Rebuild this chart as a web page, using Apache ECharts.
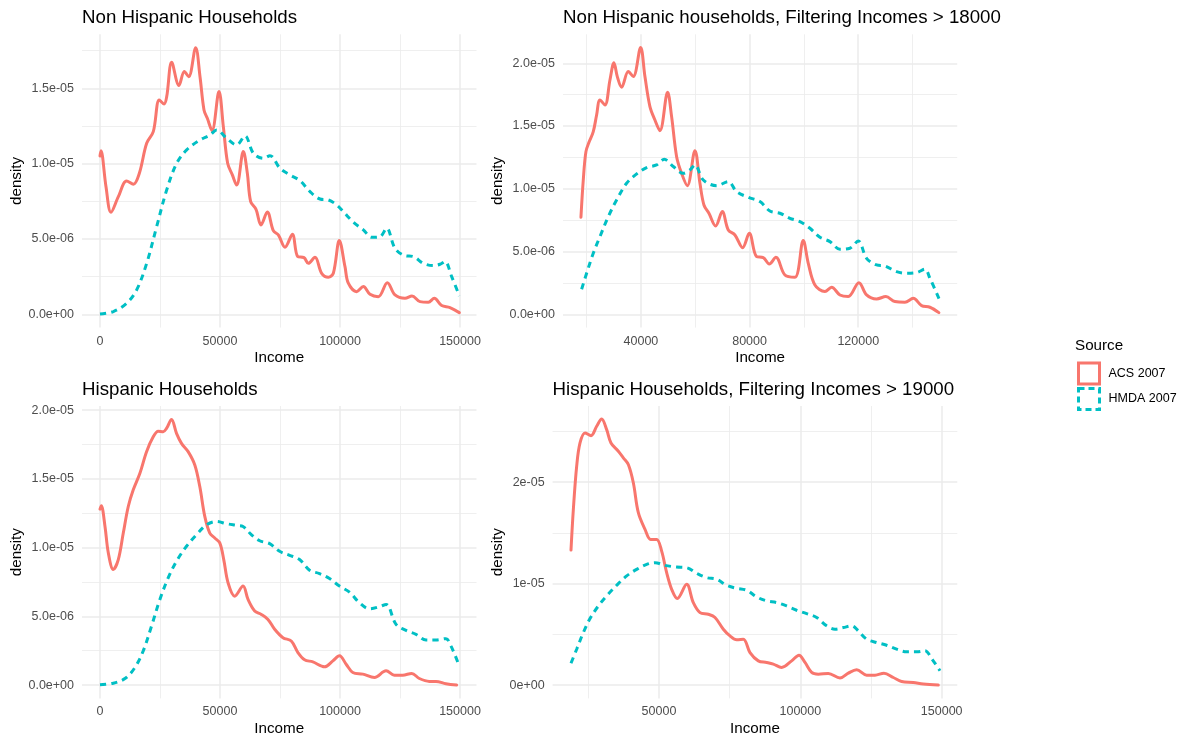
<!DOCTYPE html>
<html>
<head>
<meta charset="utf-8">
<script src="https://cdn.jsdelivr.net/npm/echarts@6/dist/echarts.min.js"></script>
<style>
html,body{margin:0;padding:0;background:#ffffff;}
#chart{width:1179px;height:738px;}
</style>
</head>
<body>
<div id="chart"></div>
<script>
// ---------------- DATA ----------------
const sourceNames = ['ACS 2007', 'HMDA 2007'];
const panelTitles = [
  'Non Hispanic Households',
  'Non Hispanic households, Filtering Incomes > 18000',
  'Hispanic Households',
  'Hispanic Households, Filtering Incomes > 19000'
];
const xAxisTitle = 'Income';
const yAxisTitle = 'density';
const legendTitle = 'Source';

// [income, density]
const nonHispAcs = [[0,10.51e-6],[400,10.86e-6],[2500,8.47e-6],[4580,6.77e-6],[7640,7.81e-6],[11100,8.85e-6],[13900,8.63e-6],[16400,9.36e-6],[19440,11.35e-6],[22200,12.12e-6],[24700,14.23e-6],[26700,13.96e-6],[27800,14.45e-6],[29860,16.73e-6],[32900,15.18e-6],[35140,16.11e-6],[36950,15.77e-6],[39860,17.70e-6],[41670,15.77e-6],[43330,13.56e-6],[44720,13.01e-6],[46670,12.19e-6],[49580,14.78e-6],[51390,12.46e-6],[53190,10.02e-6],[55140,9.25e-6],[56940,8.58e-6],[59720,10.80e-6],[61390,9.36e-6],[62780,7.48e-6],[65000,6.97e-6],[67080,5.93e-6],[69720,6.79e-6],[72220,5.55e-6],[74300,5.27e-6],[77080,4.45e-6],[80140,5.31e-6],[82360,3.83e-6],[85000,3.76e-6],[86800,3.38e-6],[89580,3.78e-6],[92360,2.72e-6],[95140,2.46e-6],[97220,2.72e-6],[99720,4.89e-6],[102080,3.16e-6],[103470,2.06e-6],[106940,1.50e-6],[109720,1.84e-6],[112500,1.33e-6],[115970,1.17e-6],[119720,2.10e-6],[122920,1.28e-6],[127080,1.06e-6],[130000,1.22e-6],[133330,0.84e-6],[136800,0.80e-6],[139300,1.06e-6],[142360,0.58e-6],[145830,0.44e-6],[149720,0.11e-6]];
const nonHispHmda = [[0,0.02e-6],[5560,0.18e-6],[11100,0.73e-6],[15280,1.62e-6],[19440,3.38e-6],[23610,5.82e-6],[27780,8.25e-6],[31940,10.02e-6],[36110,10.91e-6],[41670,11.57e-6],[45830,11.90e-6],[48610,12.23e-6],[52780,11.68e-6],[56940,11.24e-6],[60420,11.84e-6],[63890,10.69e-6],[68060,10.35e-6],[70830,10.53e-6],[75000,9.69e-6],[79170,9.25e-6],[83330,8.87e-6],[87500,8.14e-6],[91670,7.65e-6],[95140,7.59e-6],[98610,7.26e-6],[101390,6.81e-6],[105560,6.11e-6],[109720,5.60e-6],[113190,5.11e-6],[116670,5.15e-6],[119440,5.71e-6],[122920,4.38e-6],[127080,3.89e-6],[130560,3.83e-6],[134720,3.38e-6],[138890,3.23e-6],[141670,3.32e-6],[143750,3.50e-6],[146530,2.50e-6],[149720,1.22e-6]];

const nonHispAcsFilt = [[17910,7.73e-6],[18770,10.70e-6],[19750,12.96e-6],[20980,13.76e-6],[22450,14.55e-6],[23680,15.88e-6],[24910,17.08e-6],[26750,16.68e-6],[28590,18.67e-6],[30060,20.05e-6],[31290,18.94e-6],[32880,18.09e-6],[35340,19.34e-6],[37180,18.94e-6],[39880,21.25e-6],[41470,18.94e-6],[43310,16.55e-6],[45150,15.48e-6],[46990,14.63e-6],[49820,17.69e-6],[51290,15.75e-6],[53130,12.56e-6],[54970,11.23e-6],[57060,10.25e-6],[59880,13.04e-6],[61720,10.44e-6],[63190,8.71e-6],[65030,8.05e-6],[67490,7.04e-6],[69940,8.18e-6],[72150,6.72e-6],[74600,6.32e-6],[77420,5.31e-6],[79880,6.45e-6],[82580,4.59e-6],[85030,4.52e-6],[87240,4.01e-6],[89690,4.54e-6],[93000,3.13e-6],[96690,2.95e-6],[99750,5.87e-6],[101600,4.06e-6],[104050,2.34e-6],[107730,1.81e-6],[110180,2.15e-6],[113250,1.54e-6],[116320,1.41e-6],[120250,2.52e-6],[123070,1.54e-6],[126750,1.22e-6],[130190,1.41e-6],[133500,1.01e-6],[137180,0.96e-6],[140250,1.27e-6],[143310,0.69e-6],[146380,0.56e-6],[149690,0.13e-6]];
const nonHispHmdaFilt = [[18160,1.99e-6],[20000,3.27e-6],[22450,4.86e-6],[24910,6.19e-6],[27980,7.78e-6],[31040,9.11e-6],[34720,10.44e-6],[38400,11.18e-6],[42090,11.69e-6],[45770,11.90e-6],[48590,12.35e-6],[51900,11.77e-6],[55580,11.23e-6],[58040,11.50e-6],[59880,11.90e-6],[62950,10.70e-6],[67850,10.25e-6],[72150,10.57e-6],[75220,9.77e-6],[79510,9.32e-6],[83800,8.98e-6],[87480,8.23e-6],[91160,8.05e-6],[94850,7.65e-6],[98530,7.38e-6],[102210,6.85e-6],[105890,6.14e-6],[109570,5.79e-6],[113250,5.18e-6],[116930,5.26e-6],[119990,5.84e-6],[123060,4.46e-6],[126750,3.93e-6],[129810,3.85e-6],[134100,3.40e-6],[137790,3.27e-6],[141470,3.32e-6],[144540,3.59e-6],[146380,2.87e-6],[149820,1.20e-6]];

const hispAcs = [[0,12.80e-6],[550,13.04e-6],[2080,11.54e-6],[3470,9.61e-6],[5540,8.40e-6],[7620,9.13e-6],[9700,11.06e-6],[11780,12.99e-6],[13860,14.20e-6],[16630,15.41e-6],[19400,16.98e-6],[22180,18.06e-6],[24260,18.47e-6],[26330,18.43e-6],[27720,18.67e-6],[29800,19.32e-6],[31880,18.31e-6],[33960,17.58e-6],[36730,16.98e-6],[39500,16.01e-6],[41580,14.44e-6],[43660,12.27e-6],[45740,11.06e-6],[47820,10.70e-6],[49900,10.34e-6],[51560,9.13e-6],[53360,7.44e-6],[56130,6.47e-6],[59600,7.20e-6],[61680,6.23e-6],[64450,5.39e-6],[67220,5.14e-6],[69990,4.78e-6],[72770,4.06e-6],[76230,3.45e-6],[79700,3.21e-6],[82470,2.37e-6],[85240,1.84e-6],[88700,1.69e-6],[93560,1.33e-6],[97020,1.76e-6],[99790,2.13e-6],[102560,1.52e-6],[105340,0.92e-6],[109500,0.80e-6],[114350,0.56e-6],[119200,1.04e-6],[122660,0.72e-6],[126130,0.72e-6],[129870,0.85e-6],[133060,0.48e-6],[137210,0.27e-6],[139990,0.27e-6],[144140,0.10e-6],[148580,0.00e-6]];
const hispHmda = [[0,0.02e-6],[5540,0.14e-6],[10400,0.48e-6],[14550,1.28e-6],[18020,2.49e-6],[21480,4.30e-6],[24950,6.23e-6],[28410,7.80e-6],[31880,9.01e-6],[36040,10.10e-6],[40190,10.94e-6],[44350,11.66e-6],[48510,11.90e-6],[52670,11.74e-6],[56830,11.62e-6],[59600,11.54e-6],[63060,10.94e-6],[66530,10.50e-6],[70690,10.29e-6],[74840,9.73e-6],[79000,9.44e-6],[83160,9.13e-6],[87320,8.36e-6],[91480,8.11e-6],[95630,7.75e-6],[99790,7.20e-6],[103950,6.76e-6],[108110,5.99e-6],[112270,5.55e-6],[116420,5.70e-6],[119200,5.87e-6],[123350,4.42e-6],[127510,3.98e-6],[131670,3.69e-6],[135830,3.28e-6],[139990,3.28e-6],[144140,3.38e-6],[146220,2.85e-6],[149410,1.52e-6]];

const hispAcsFilt = [[18870,13.31e-6],[19700,17.31e-6],[20880,21.58e-6],[22060,23.87e-6],[23830,24.85e-6],[25950,24.59e-6],[27950,25.51e-6],[29720,26.23e-6],[31490,25.18e-6],[33020,23.87e-6],[35620,23.05e-6],[37380,22.40e-6],[39150,21.74e-6],[40920,19.94e-6],[42690,16.99e-6],[45050,15.35e-6],[47050,14.36e-6],[49170,14.36e-6],[50940,13.21e-6],[52710,11.08e-6],[54480,9.44e-6],[56480,8.53e-6],[59790,9.93e-6],[62140,8.13e-6],[64500,7.15e-6],[67450,6.98e-6],[69810,6.66e-6],[72750,5.51e-6],[75110,4.85e-6],[77470,4.46e-6],[79830,4.53e-6],[82190,3.21e-6],[85130,2.39e-6],[88080,2.23e-6],[90440,2.07e-6],[93390,1.74e-6],[96920,2.39e-6],[99520,2.95e-6],[101640,2.23e-6],[104000,1.25e-6],[106360,1.08e-6],[109890,1.15e-6],[114020,0.69e-6],[116970,1.18e-6],[119910,1.51e-6],[123450,0.98e-6],[126400,0.98e-6],[129580,1.18e-6],[132880,0.75e-6],[135830,0.36e-6],[139960,0.26e-6],[143500,0.10e-6],[148800,0.00e-6]];
const hispHmdaFilt = [[18870,2.16e-6],[20880,3.54e-6],[23240,5.18e-6],[25600,6.56e-6],[28540,7.80e-6],[31490,8.79e-6],[35030,9.84e-6],[38560,10.76e-6],[42100,11.41e-6],[45640,11.90e-6],[48590,12.07e-6],[52120,11.80e-6],[56250,11.64e-6],[59790,11.57e-6],[63320,11.02e-6],[66860,10.59e-6],[70400,10.43e-6],[73930,9.84e-6],[77470,9.54e-6],[81010,9.35e-6],[84540,8.69e-6],[88080,8.30e-6],[91620,8.13e-6],[95160,7.80e-6],[98690,7.38e-6],[102230,7.05e-6],[105770,6.66e-6],[109300,5.84e-6],[112250,5.51e-6],[115200,5.67e-6],[118150,5.84e-6],[120500,5.34e-6],[123450,4.53e-6],[126990,4.20e-6],[130520,3.93e-6],[134060,3.54e-6],[137600,3.28e-6],[141140,3.28e-6],[144080,3.38e-6],[146440,2.62e-6],[149390,1.41e-6]];

// tick values and labels
const xTicksFull = [0, 50000, 100000, 150000];
const xLabelsFull = ['0', '50000', '100000', '150000'];
const xMinorFull = [25000, 75000, 125000];
const xTicksNH = [40000, 80000, 120000];
const xLabelsNH = ['40000', '80000', '120000'];
const xMinorNH = [20000, 60000, 100000, 140000];
const xTicksH = [50000, 100000, 150000];
const xLabelsH = ['50000', '100000', '150000'];
const xMinorH = [25000, 75000, 125000];

const yTicks15 = [0, 5e-6, 1e-5, 1.5e-5];
const yLabels15 = ['0.0e+00', '5.0e-06', '1.0e-05', '1.5e-05'];
const yMinor15 = [2.5e-6, 7.5e-6, 1.25e-5, 1.75e-5];
const yTicks20 = [0, 5e-6, 1e-5, 1.5e-5, 2e-5];
const yLabels20 = ['0.0e+00', '5.0e-06', '1.0e-05', '1.5e-05', '2.0e-05'];
const yMinor20 = [2.5e-6, 7.5e-6, 1.25e-5, 1.75e-5];
const yTicksH = [0, 1e-5, 2e-5];
const yLabelsH = ['0e+00', '1e-05', '2e-05'];
const yMinorH = [5e-6, 1.5e-5, 2.5e-5];

// ---------------- LAYOUT ----------------
const FONT = '"Liberation Sans", Arial, Helvetica, sans-serif';
const RED = '#F8766D', TEAL = '#00BFC4', GRID = '#EBEBEB';

const panels = [
  { title: panelTitles[0], tLeft: 82, tTop: 7.8, g: {left: 82, top: 34.3, width: 394.5, height: 293.3},
    xr: [-7500, 156875], yr: [-0.885e-6, 18.585e-6], xt: xTicksFull, xl: xLabelsFull, xm: xMinorFull,
    yt: yTicks15, yl: yLabels15, ym: yMinor15, acs: nonHispAcs, hmda: nonHispHmda, yGap: 52.7 },
  { title: panelTitles[1], tLeft: 563, tTop: 7.8, g: {left: 563, top: 34.3, width: 394.2, height: 293.3},
    xr: [11305, 156429], yr: [-1.0625e-6, 22.31e-6], xt: xTicksNH, xl: xLabelsNH, xm: xMinorNH,
    yt: yTicks20, yl: yLabels20, ym: yMinor20, acs: nonHispAcsFilt, hmda: nonHispHmdaFilt, yGap: 53.7 },
  { title: panelTitles[2], tLeft: 82, tTop: 379.6, g: {left: 82, top: 406, width: 394.5, height: 293.3},
    xr: [-7500, 156875], yr: [-0.967e-6, 20.3e-6], xt: xTicksFull, xl: xLabelsFull, xm: xMinorFull,
    yt: yTicks20, yl: yLabels20, ym: yMinor20, acs: hispAcs, hmda: hispHmda, yGap: 52.7 },
  { title: panelTitles[3], tLeft: 552.6, tTop: 379.6, g: {left: 552.6, top: 406, width: 404.7, height: 293.3},
    xr: [12363, 155518], yr: [-1.31e-6, 27.51e-6], xt: xTicksH, xl: xLabelsH, xm: xMinorH,
    yt: yTicksH, yl: yLabelsH, ym: yMinorH, acs: hispAcsFilt, hmda: hispHmdaFilt, yGap: 43.3 }
];

function labelFor(ticks, labels) {
  return function (v) {
    let best = 0, bd = Infinity;
    ticks.forEach((t, i) => { const d = Math.abs(t - v); if (d < bd) { bd = d; best = i; } });
    return labels[best];
  };
}

const option = {
  animation: false,
  backgroundColor: '#ffffff',
  title: [],
  grid: [],
  xAxis: [],
  yAxis: [],
  series: [],
  legend: {
    orient: 'vertical',
    left: 1077, top: 361.5,
    padding: 0,
    itemWidth: 21, itemHeight: 21, itemGap: 1.5,
    selectedMode: false,
    textStyle: { fontFamily: FONT, fontSize: 12.5, color: '#000000', padding: [0, 0, 0, 4] },
    data: [
      { name: sourceNames[0], icon: 'rect', itemStyle: { color: '#ffffff', borderColor: RED, borderWidth: 3 } },
      { name: sourceNames[1], icon: 'rect', itemStyle: { color: '#ffffff', borderColor: TEAL, borderWidth: 3, borderType: [6, 4] } }
    ]
  }
};

panels.forEach((p, i) => {
  option.title.push({
    text: p.title, left: p.tLeft, top: p.tTop, padding: 0,
    textStyle: { fontFamily: FONT, fontSize: 18.7, fontWeight: 'normal', color: '#000000', lineHeight: 20 }
  });
  option.grid.push(Object.assign({ containLabel: false }, p.g));
  // major x
  option.xAxis.push({
    type: 'value', gridIndex: i, min: p.xr[0], max: p.xr[1],
    axisLine: { show: false, onZero: false },
    axisTick: { show: false, customValues: p.xt },
    axisLabel: { customValues: p.xt, formatter: labelFor(p.xt, p.xl), margin: 6.5,
      fontFamily: FONT, fontSize: 12.5, color: '#4D4D4D', lineHeight: 14 },
    splitLine: { show: true, lineStyle: { color: GRID, width: 1.5 } },
    name: xAxisTitle, nameLocation: 'middle', nameGap: 22.6,
    nameTextStyle: { fontFamily: FONT, fontSize: 15.2, color: '#000000', lineHeight: 16 }
  });
  // minor x
  option.xAxis.push({
    type: 'value', gridIndex: i, min: p.xr[0], max: p.xr[1], position: 'bottom',
    axisLine: { show: false, onZero: false },
    axisTick: { show: false, customValues: p.xm },
    axisLabel: { show: false },
    splitLine: { show: true, lineStyle: { color: GRID, width: 0.8 } }
  });
  // major y
  option.yAxis.push({
    type: 'value', gridIndex: i, min: p.yr[0], max: p.yr[1],
    axisLine: { show: false, onZero: false },
    axisTick: { show: false, customValues: p.yt },
    axisLabel: { customValues: p.yt, formatter: labelFor(p.yt, p.yl), margin: 8,
      fontFamily: FONT, fontSize: 12.5, color: '#4D4D4D', lineHeight: 14 },
    splitLine: { show: true, lineStyle: { color: GRID, width: 1.5 } },
    name: yAxisTitle, nameLocation: 'middle', nameGap: p.yGap, nameRotate: 90,
    nameTextStyle: { fontFamily: FONT, fontSize: 15.2, color: '#000000', lineHeight: 16 }
  });
  // minor y
  option.yAxis.push({
    type: 'value', gridIndex: i, min: p.yr[0], max: p.yr[1], position: 'left',
    axisLine: { show: false, onZero: false },
    axisTick: { show: false, customValues: p.ym },
    axisLabel: { show: false },
    splitLine: { show: true, lineStyle: { color: GRID, width: 0.8 } }
  });
  option.series.push({
    type: 'line', name: sourceNames[0], xAxisIndex: 2 * i, yAxisIndex: 2 * i,
    data: p.acs, showSymbol: false, symbol: 'none', smooth: 0.35, silent: true,
    lineStyle: { color: RED, width: 3, cap: 'round', join: 'round' }, itemStyle: { color: RED }, z: 3
  });
  option.series.push({
    type: 'line', name: sourceNames[1], xAxisIndex: 2 * i, yAxisIndex: 2 * i,
    data: p.hmda, showSymbol: false, symbol: 'none', smooth: 0.35, silent: true,
    lineStyle: { color: TEAL, width: 3, type: [6.2, 5.1], cap: 'butt' }, itemStyle: { color: TEAL }, z: 4
  });
});

option.title.push({
  text: legendTitle, left: 1075, top: 338, padding: 0,
  textStyle: { fontFamily: FONT, fontSize: 15.2, fontWeight: 'normal', color: '#000000', lineHeight: 16 }
});

const chart = echarts.init(document.getElementById('chart'), null, { renderer: 'canvas' });
chart.setOption(option);
</script>
</body>
</html>
